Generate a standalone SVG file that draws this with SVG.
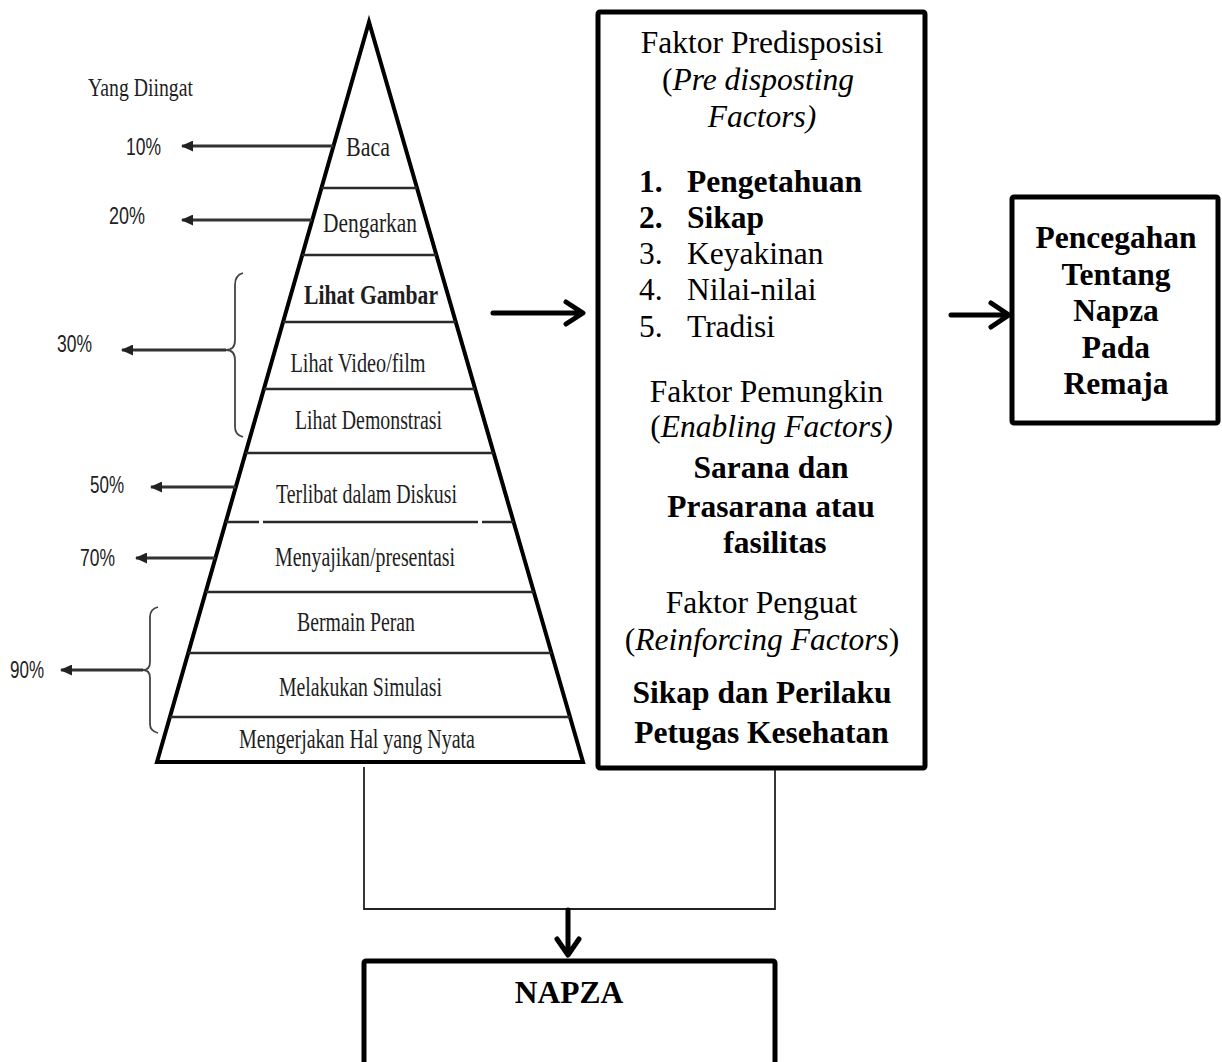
<svg xmlns="http://www.w3.org/2000/svg" width="1222" height="1062" viewBox="0 0 1222 1062">
<style>
.pl{font-family:"Liberation Serif","Times New Roman",serif;font-size:27px;fill:#1e1e1e;text-anchor:middle}
.pc{font-family:"Liberation Sans",Arial,sans-serif;font-size:24px;fill:#222;text-anchor:start}
.bx{font-family:"Liberation Serif","Times New Roman",serif;font-size:31.5px;fill:#000}
.c{text-anchor:middle}
.b{font-weight:bold}
.i{font-style:italic}
.box{fill:#fff;stroke:#000;stroke-width:5}
.tier{stroke:#2a2a2a;stroke-width:2.5;fill:none}
.thin{stroke:#333;stroke-width:3;fill:none}
.brace{stroke:#444;stroke-width:1.8;fill:none}
.thick{stroke:#000;stroke-width:5;fill:none;stroke-linecap:round;stroke-linejoin:round}
.conn{stroke:#222;stroke-width:1.8;fill:none}
</style>
<defs>
<marker id="tri" markerUnits="userSpaceOnUse" viewBox="0 0 12 11" refX="11" refY="5.5" markerWidth="12" markerHeight="11" orient="auto">
<path d="M0,0 L12,5.5 L0,11 z" fill="#222"/>
</marker>
</defs>

<g id="pyramid">
<path d="M369,22 L157,762 L583,762 Z" fill="#fff" stroke="#000" stroke-width="4" stroke-linejoin="miter"/>
<line class="tier" x1="321.4" y1="188" x2="417" y2="188"/>
<line class="tier" x1="302.2" y1="255" x2="436.4" y2="255"/>
<line class="tier" x1="283.1" y1="322" x2="455.8" y2="322"/>
<line class="tier" x1="263.9" y1="389" x2="475.1" y2="389"/>
<line class="tier" x1="245.5" y1="453" x2="493.6" y2="453"/>
<line class="tier" x1="225.8" y1="522" x2="259" y2="522"/>
<line class="tier" x1="263" y1="522" x2="478" y2="522"/>
<line class="tier" x1="482" y1="522" x2="513.6" y2="522"/>
<line class="tier" x1="205.7" y1="592" x2="533.8" y2="592"/>
<line class="tier" x1="188.2" y1="653" x2="551.5" y2="653"/>
<line class="tier" x1="169.9" y1="717" x2="570" y2="717"/>
<text class="pl" x="368" y="156" textLength="44" lengthAdjust="spacingAndGlyphs">Baca</text>
<text class="pl" x="370" y="232" textLength="94" lengthAdjust="spacingAndGlyphs">Dengarkan</text>
<text class="pl b" x="371" y="304" textLength="134" lengthAdjust="spacingAndGlyphs">Lihat Gambar</text>
<text class="pl" x="358" y="372" textLength="135" lengthAdjust="spacingAndGlyphs">Lihat Video/film</text>
<text class="pl" x="368.5" y="429" textLength="147" lengthAdjust="spacingAndGlyphs">Lihat Demonstrasi</text>
<text class="pl" x="366.5" y="503" textLength="181" lengthAdjust="spacingAndGlyphs">Terlibat dalam Diskusi</text>
<text class="pl" x="365" y="566" textLength="180" lengthAdjust="spacingAndGlyphs">Menyajikan/presentasi</text>
<text class="pl" x="356" y="631" textLength="118" lengthAdjust="spacingAndGlyphs">Bermain Peran</text>
<text class="pl" x="360.5" y="696" textLength="163" lengthAdjust="spacingAndGlyphs">Melakukan Simulasi</text>
<text class="pl" x="357" y="748" textLength="236" lengthAdjust="spacingAndGlyphs">Mengerjakan Hal yang Nyata</text>
</g>

<g id="retention-labels">
<text class="pl" x="140.5" y="96" textLength="105" lengthAdjust="spacingAndGlyphs" style="font-size:25px">Yang Diingat</text>
<text class="pc" x="126" y="155" textLength="35" lengthAdjust="spacingAndGlyphs">10%</text>
<text class="pc" x="109" y="224" textLength="36" lengthAdjust="spacingAndGlyphs">20%</text>
<text class="pc" x="57" y="352" textLength="35" lengthAdjust="spacingAndGlyphs">30%</text>
<text class="pc" x="90" y="493" textLength="34" lengthAdjust="spacingAndGlyphs">50%</text>
<text class="pc" x="80" y="566" textLength="35" lengthAdjust="spacingAndGlyphs">70%</text>
<text class="pc" x="10" y="678" textLength="34" lengthAdjust="spacingAndGlyphs">90%</text>
<path class="brace" d="M243,273 Q235,275 235,285 L235,340 Q235,350 226,350 Q235,350 235,360 L235,427 Q235,435 243,437"/>
<path class="brace" d="M158,607 Q150,609 150,617 L150,662 Q150,670 143,670 Q150,670 150,678 L150,724 Q150,731 158,733"/>
</g>

<g id="factors-box">
<rect class="box" x="598" y="12" width="327" height="756" rx="2"/>
<text class="bx c" x="762" y="53">Faktor Predisposisi</text>
<text class="bx c" x="758" y="90">(<tspan class="i">Pre disposting</tspan></text>
<text class="bx c i" x="762" y="127">Factors)</text>
<text class="bx b" x="639" y="192">1.</text><text class="bx b" x="687" y="192">Pengetahuan</text>
<text class="bx b" x="639" y="228">2.</text><text class="bx b" x="687" y="228">Sikap</text>
<text class="bx" x="639" y="264">3.</text><text class="bx" x="687" y="264">Keyakinan</text>
<text class="bx" x="639" y="300">4.</text><text class="bx" x="687" y="300">Nilai-nilai</text>
<text class="bx" x="639" y="337">5.</text><text class="bx" x="687" y="337">Tradisi</text>
<text class="bx c" x="766.5" y="402">Faktor Pemungkin</text>
<text class="bx c" x="771.5" y="437">(<tspan class="i">Enabling Factors)</tspan></text>
<text class="bx c b" x="771" y="478">Sarana dan</text>
<text class="bx c b" x="771" y="517">Prasarana atau</text>
<text class="bx c b" x="775" y="553">fasilitas</text>
<text class="bx c" x="761.5" y="613">Faktor Penguat</text>
<text class="bx c" x="762" y="650">(<tspan class="i">Reinforcing Factors</tspan>)</text>
<text class="bx c b" x="762" y="703">Sikap dan Perilaku</text>
<text class="bx c b" x="761.5" y="743">Petugas Kesehatan</text>
</g>

<g id="prevention-box">
<rect class="box" x="1012" y="197" width="206" height="226" rx="2"/>
<text class="bx c b" x="1116" y="248">Pencegahan</text>
<text class="bx c b" x="1116" y="284.5">Tentang</text>
<text class="bx c b" x="1116" y="321">Napza</text>
<text class="bx c b" x="1116" y="357.5">Pada</text>
<text class="bx c b" x="1116" y="394">Remaja</text>
</g>

<g id="napza-box">
<rect class="box" x="364" y="961" width="411" height="130" rx="2"/>
<text class="bx c b" x="569" y="1003">NAPZA</text>
</g>

<g id="connectors">
<line class="thin" x1="333.5" y1="146" x2="182" y2="146" marker-end="url(#tri)"/>
<line class="thin" x1="312" y1="220" x2="182" y2="220" marker-end="url(#tri)"/>
<line class="thin" x1="226" y1="350" x2="122" y2="350" marker-end="url(#tri)"/>
<line class="thin" x1="235.8" y1="487" x2="151" y2="487" marker-end="url(#tri)"/>
<line class="thin" x1="215.4" y1="558" x2="136" y2="558" marker-end="url(#tri)"/>
<line class="thin" x1="143" y1="670" x2="61" y2="670" marker-end="url(#tri)"/>
<path class="thick" d="M493,313 L582,313 M566,302 L583,313 L566,324"/>
<path class="thick" d="M951,315 L1008,315 M991,303 L1009,315 L991,327"/>
<path class="conn" d="M364,767 L364,909 L775,909 L775,770"/>
<path class="thick" d="M568,910 L568,954 M557,939 L568,955 L579,939"/>
</g>
</svg>
